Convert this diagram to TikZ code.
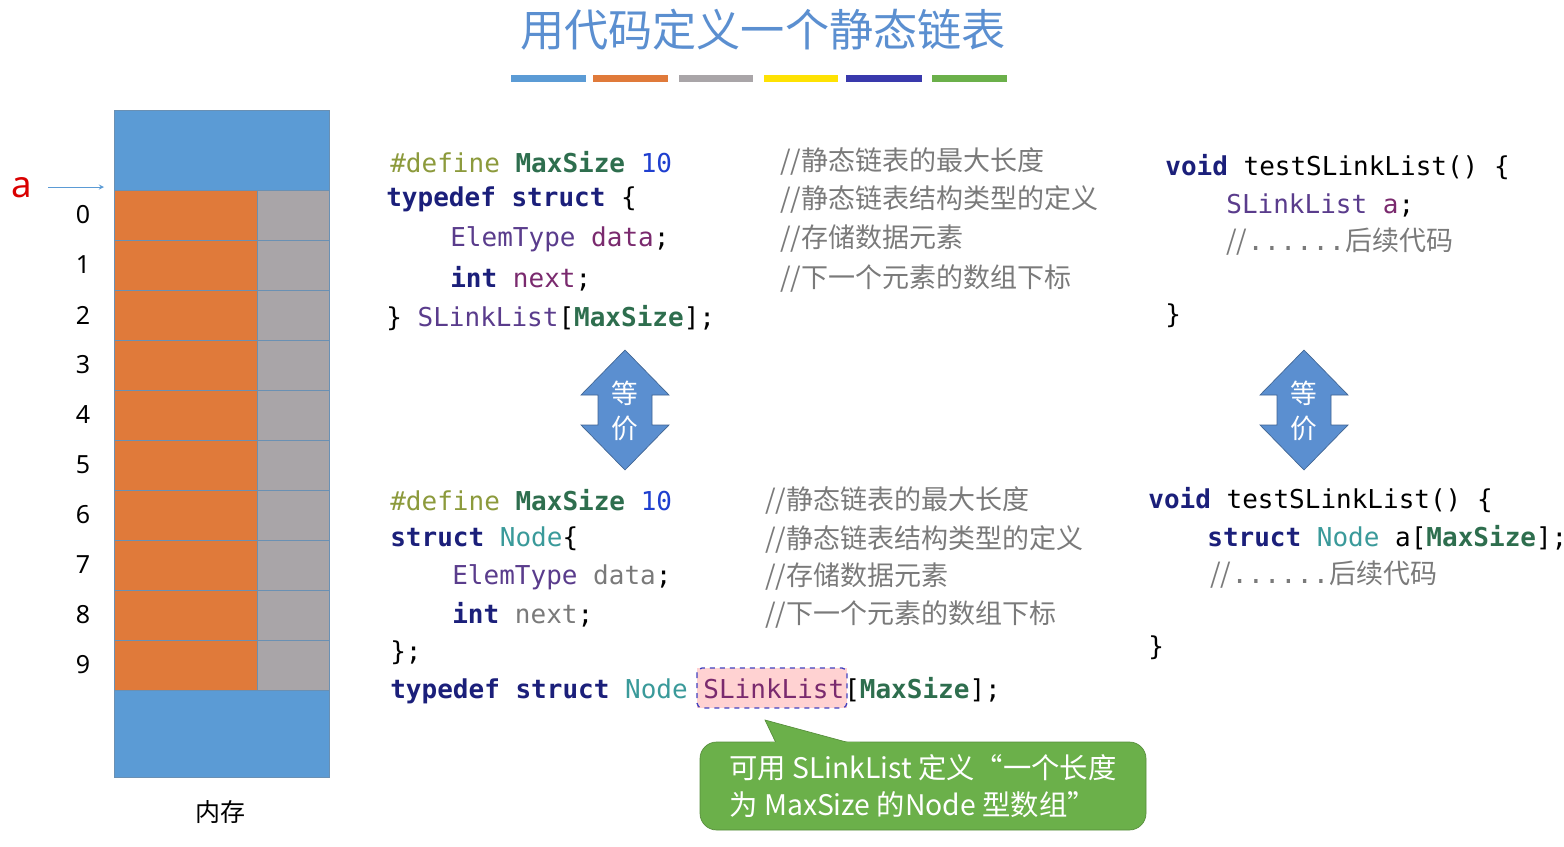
\documentclass[tikz,border=0pt]{standalone}
\usepackage{fontspec}
\setmonofont{DejaVu Sans Mono}
\newfontfamily\cjk{Noto Sans CJK SC}
\newfontfamily\sans{Noto Sans}
\begin{document}
\definecolor{kw}{HTML}{1B1F7A}
\definecolor{df}{HTML}{8C9A3C}
\definecolor{ms}{HTML}{2E6E4E}
\definecolor{nm}{HTML}{1F3FCF}
\definecolor{ty}{HTML}{5A3C8C}
\definecolor{vr}{HTML}{7A2A6E}
\definecolor{nd}{HTML}{3A9A9A}
\definecolor{cm}{HTML}{7A7A7A}
\definecolor{mblue}{HTML}{5B9BD5}
\definecolor{morange}{HTML}{E07A3A}
\definecolor{mgray}{HTML}{A9A5A8}
\definecolor{ablue}{HTML}{5B8FD0}
\definecolor{cgreen}{HTML}{6BB04A}
\begin{tikzpicture}[x=0.6pt,y=-0.6pt,
  code/.style={anchor=west,inner sep=0,font=\ttfamily\fontsize{15.6}{18}\selectfont},
  cmt/.style={anchor=west,inner sep=0,text=cm,font=\cjk\fontsize{16.2}{18}\selectfont},
  idx/.style={inner sep=0,font=\sans\fontsize{15}{18}\selectfont}]
\useasboundingbox (0,0) rectangle (1564,846);
\newcommand{\K}[1]{\textcolor{kw}{\bfseries #1}}
\newcommand{\M}{\textcolor{ms}{\bfseries MaxSize}}
% title
\node[text=ablue,font=\cjk\fontsize{26.5}{30}\selectfont] (title) at (763,30) {用代码定义一个静态链表};
\foreach \a/\b/\c [count=\i] in {511/586/mblue,593/668/morange,679/753/mgray,764/838/yellow!85!orange,846/922/{blue!50!gray!90!black},932/1007/cgreen}
  \fill[\c] (\a,75) rectangle (\b,82);
% memory
\fill[mblue] (114,110) rectangle (329,190);
\fill[mblue] (114,690) rectangle (329,777);
\foreach \i in {0,...,9}{
  \fill[morange,draw=mblue!60!gray] (114,190+50*\i) rectangle (257,240+50*\i);
  \fill[mgray,draw=mblue!60!gray] (257,190+50*\i) rectangle (329,240+50*\i);
  \node[idx] (n\i) at (83,215+50*\i) {\i};
}
\draw[mblue!60!gray] (114,110) rectangle (329,777);
\node[text=red!85!black,font=\sans\fontsize{22}{24}\selectfont,inner sep=0] (la) at (22,188) {a};
\coordinate (ca) at (48,187);
\coordinate (cb) at (104,187);
\draw[-stealth,mblue] (ca) -- (cb);
\node[font=\cjk\fontsize{15}{18}\selectfont] (mem) at (220,812) {内存};
% top code
\node[code] (t1) at (390,162) {\textcolor{df}{\#define} \M{} \textcolor{nm}{10}};
\node[code] (t2) at (386,199) {\K{typedef} \K{struct} \{};
\node[code] (t3) at (450,239) {\textcolor{ty}{ElemType} \textcolor{vr}{data};};
\node[code] (t4) at (450,279) {\K{int} \textcolor{vr}{next};};
\node[code] (t5) at (386,318) {\} \textcolor{ty}{SLinkList}[\M];};
\node[cmt] (c1) at (780,162) {//静态链表的最大长度};
\node[cmt] (c2) at (780,199) {//静态链表结构类型的定义};
\node[cmt] (c3) at (780,239) {//存储数据元素};
\node[cmt] (c4) at (780,279) {//下一个元素的数组下标};
\node[code] (r1) at (1165,167) {\K{void} testSLinkList() \{};
\node[code] (r2) at (1226,205) {\textcolor{ty}{SLinkList} \textcolor{vr}{a};};
\node[cmt] (r3) at (1226,242) {//\texttt{......}后续代码};
\node[code] (r4) at (1165,316) {\}};
% bottom code
\node[code] (b1) at (390,500) {\textcolor{df}{\#define} \M{} \textcolor{nm}{10}};
\node[code] (b2) at (390,539) {\K{struct} \textcolor{nd}{Node}\{};
\node[code] (b3) at (452,577) {\textcolor{ty}{ElemType} \textcolor{cm}{data};};
\node[code] (b4) at (452,615) {\K{int} \textcolor{cm}{next};};
\node[code] (b5) at (390,653) {\};};
\fill[pink!70] (697,668) rectangle (847,708);
\draw[dashed,thick,blue!50!gray,rounded corners=3pt] (697,668) rectangle (847,708);
\node[code] (b6) at (390,691) {\K{typedef} \K{struct} \textcolor{nd}{Node} \textcolor{vr}{SLinkList}[\M];};
\node[cmt] (d1) at (765,500) {//静态链表的最大长度};
\node[cmt] (d2) at (765,539) {//静态链表结构类型的定义};
\node[cmt] (d3) at (765,577) {//存储数据元素};
\node[cmt] (d4) at (765,615) {//下一个元素的数组下标};
\node[code] (s1) at (1148,500) {\K{void} testSLinkList() \{};
\node[code] (s2) at (1207,538) {\K{struct} \textcolor{nd}{Node} a[\M];};
\node[cmt] (s3) at (1210,575) {//\texttt{......}后续代码};
\node[code] (s4) at (1148,648) {\}};
% arrows
\foreach \cx/\nm in {625/e1,1304/e2}{
  \filldraw[fill=ablue,draw=ablue!70!black] (\cx,350) -- (\cx+44,395) -- (\cx+27,395) -- (\cx+27,425) -- (\cx+44,425) -- (\cx,470) -- (\cx-44,425) -- (\cx-27,425) -- (\cx-27,395) -- (\cx-44,395) -- cycle;
  \node[text=white,font=\cjk\fontsize{16}{21}\selectfont,align=center,inner sep=0] (\nm) at (\cx,411) {等\\价};
}
% callout
\filldraw[fill=cgreen,draw=cgreen!80!black,rounded corners=10pt] (700,742) rectangle (1146,830);
\filldraw[fill=cgreen,draw=cgreen!80!black] (776,743) -- (765,720) -- (850,743);
\fill[cgreen] (770,742) rectangle (860,748);
\node[text=white,font=\cjk\fontsize{17}{22}\selectfont,align=left,inner sep=0] (note) at (923,786) {可用 SLinkList 定义“一个长度\\为 MaxSize 的Node 型数组”};
\end{tikzpicture}
\end{document}
